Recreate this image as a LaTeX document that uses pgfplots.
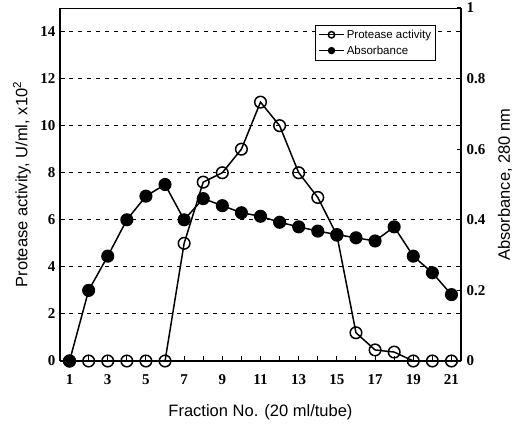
\documentclass[border=0pt]{standalone}
\usepackage{pgfplots}
\pgfplotsset{compat=1.18}
\usepackage{fontspec}
\setmainfont{Liberation Sans}
\newfontfamily\tickfont{Liberation Serif}

\pgfplotstableread{
x prot
1 0
2 0
3 0
4 0
5 0
6 0
7 5
8 7.6
9 8
10 9
11 11
12 10
13 8
14 6.95
15 5.35
16 1.2
17 0.47
18 0.38
19 0
20 0
21 0
}\protease

\pgfplotstableread{
x abs
1 0
2 0.2
3 0.297
4 0.4
5 0.467
6 0.5
7 0.4
8 0.46
9 0.44
10 0.42
11 0.41
12 0.393
13 0.38
14 0.368
15 0.358
16 0.349
17 0.34
18 0.38
19 0.297
20 0.25
21 0.188
}\absorb

\begin{document}
\begin{tikzpicture}
\path[use as bounding box] (-60pt,-64pt) rectangle (458pt,361pt);
\begin{axis}[
  at={(0,0)}, anchor=south west,
  scale only axis, width=401pt, height=353pt,
  xmin=0.5, xmax=21.5, ymin=0, ymax=15,
  axis x line*=bottom, axis y line*=left,
  axis line style={line width=1.8pt, -},
  xtick={1,3,...,21}, minor xtick={2,4,...,20},
  ytick={0,2,...,14},
  tick align=inside,
  major tick length=5pt, minor tick length=5pt,
  tick style={black, line width=1pt},
  ymajorgrids,
  grid style={black, line width=0.9pt, dash pattern=on 4pt off 5pt},
  /pgf/number format/assume math mode=true,
  ticklabel style={font=\tickfont\bfseries\fontsize{15}{15}\selectfont},
  xticklabel style={yshift=-10pt},
  yticklabel style={xshift=-1pt},
  label style={font=\fontsize{16.5}{18}\selectfont},
  xlabel={Fraction No. (20 ml/tube)},
  ylabel={Protease activity, U/ml, x10\textsuperscript{2}},
  xlabel style={at={(axis description cs:0.5,-0.1445)}, anchor=center},
  ylabel style={at={(axis description cs:-0.0948,0.5)}, anchor=center},
  clip=false,
]
\addplot[black, line width=1.5pt, mark=o, mark size=5.8pt,
  mark options={fill=white, line width=1.5pt}] table[x=x, y=prot] {\protease};
\end{axis}
\begin{axis}[
  at={(0,0)}, anchor=south west,
  scale only axis, width=401pt, height=353pt,
  xmin=0.5, xmax=21.5, ymin=0, ymax=1,
  axis x line*=top, axis y line*=right,
  x axis line style={line width=0.7pt, -},
  y axis line style={line width=1.6pt, -},
  xtick=\empty,
  ytick={0,0.2,0.4,0.6,0.8,1},
  yticklabels={0,0.2,0.4,0.6,0.8,1},
  tick align=inside,
  major tick length=4pt,
  tick style={black, line width=1pt},
  /pgf/number format/assume math mode=true,
  ticklabel style={font=\tickfont\bfseries\fontsize{15}{15}\selectfont},
  yticklabel style={xshift=2pt},
  label style={font=\fontsize{16.5}{18}\selectfont},
  ylabel={Absorbance, 280 nm},
  ylabel style={at={(axis description cs:1.1097,0.5)}, anchor=center},
  legend style={at={(axis description cs:1,1)}, anchor=north east,
    xshift=-25pt, yshift=-17pt, draw=black, line width=0.7pt,
    font=\fontsize{11.5}{13}\selectfont, inner sep=2.5pt,
    row sep=2pt, legend cell align=left},
  legend image code/.code={\draw[mark repeat=2,mark phase=2,#1] plot coordinates {(0cm,0cm) (0.45cm,0cm) (0.9cm,0cm)};},
  legend image post style={mark size=3.2pt, line width=1pt},
  clip=false,
]
\addlegendimage{black, line width=1.5pt, mark=o, mark size=5.8pt, mark options={fill=white, line width=1.5pt}}
\addlegendentry{Protease activity}
\addplot[black, line width=1.5pt, mark=*, mark size=5.8pt] table[x=x, y=abs] {\absorb};
\addlegendentry{Absorbance}
\end{axis}
\end{tikzpicture}
\end{document}
